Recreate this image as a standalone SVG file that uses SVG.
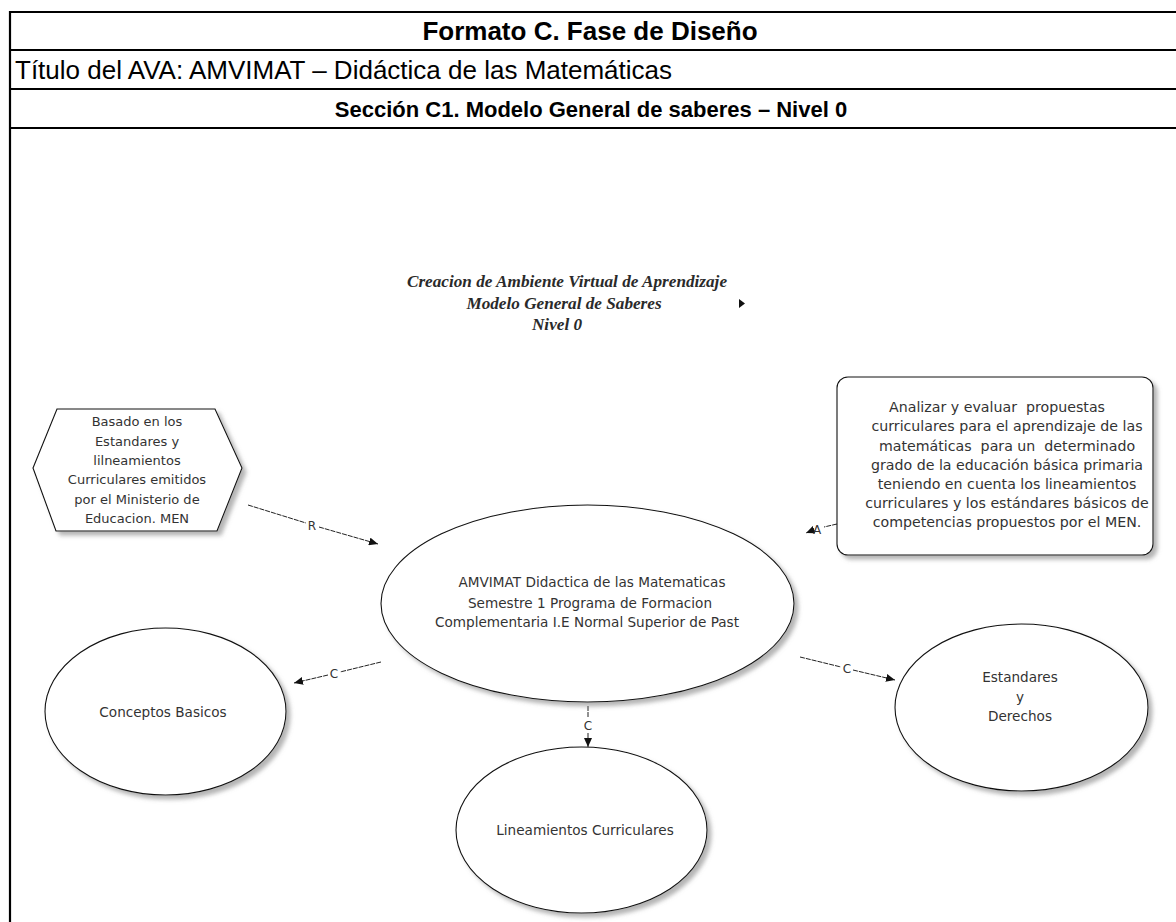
<svg xmlns="http://www.w3.org/2000/svg" width="1176" height="922" viewBox="0 0 1176 922">
  <style>
    .rule { stroke: #000; stroke-width: 2.2; fill: none; }
    .hd { font-family: "Liberation Sans", Arial, sans-serif; font-size: 22px; fill: #000; }
    .hdb { font-weight: bold; }
    .ttl { font-family: "Liberation Serif", "Times New Roman", serif; font-style: italic; font-weight: bold; font-size: 17.2px; fill: #2a2a2a; }
    .shape { fill: #fff; stroke: #111; stroke-width: 1.1; filter: url(#shadow); }
    .lbl { font-family: "DejaVu Sans", Verdana, sans-serif; font-size: 13.6px; fill: #333; text-anchor: middle; }
    .hex { font-size: 13px; }
    .box { font-size: 14.2px; white-space: pre; }
    .conn { stroke: #222; stroke-width: 1; fill: none; stroke-dasharray: 5 1; }
    .ctag { font-family: "DejaVu Sans", Verdana, sans-serif; font-size: 12px; fill: #333; text-anchor: middle; }
  </style>
  <defs>
    <filter id="shadow" x="-10%" y="-10%" width="125%" height="130%">
      <feDropShadow dx="4" dy="4" stdDeviation="2" flood-color="#777" flood-opacity="0.55"/>
    </filter>
    <marker id="arrow" markerWidth="9" markerHeight="8" refX="9" refY="4" orient="auto" markerUnits="userSpaceOnUse">
      <path d="M0,0 L9,4 L0,8 z" fill="#111"/>
    </marker>
  </defs>

  <rect width="1176" height="922" fill="#fff"/>

  <!-- form table -->
  <g id="table">
    <line class="rule" x1="10" y1="12" x2="1176" y2="12"/>
    <line class="rule" x1="10" y1="50" x2="1176" y2="50"/>
    <line class="rule" x1="10" y1="89" x2="1176" y2="89"/>
    <line class="rule" x1="10" y1="128" x2="1176" y2="128"/>
    <line class="rule" x1="10" y1="11" x2="10" y2="922"/>
    <text class="hd hdb" x="590" y="40" text-anchor="middle" style="font-size:26px">Formato C. Fase de Diseño</text>
    <text class="hd" x="15" y="79" style="font-size:26px">Título del AVA: AMVIMAT – Didáctica de las Matemáticas</text>
    <text class="hd hdb" x="591" y="117" text-anchor="middle">Sección C1. Modelo General de saberes – Nivel 0</text>
  </g>

  <!-- diagram heading -->
  <g id="heading">
    <text class="ttl" x="567" y="287" text-anchor="middle">Creacion de Ambiente Virtual de Aprendizaje</text>
    <text class="ttl" x="564" y="309" text-anchor="middle">Modelo General de Saberes</text>
    <text class="ttl" x="557" y="330" text-anchor="middle">Nivel 0</text>
    <path d="M739,299 L745,303.5 L739,308 z" fill="#111"/>
  </g>

  <!-- connectors -->
  <g id="connectors">
    <path class="conn" d="M248,505 L306,523"/>
    <path class="conn" d="M319,527 L378,544" marker-end="url(#arrow)"/>
    <text class="ctag" x="312" y="530">R</text>

    <path class="conn" d="M837,524 L824,527"/>
    <path class="conn" d="M811,531 L806,533" marker-end="url(#arrow)"/>
    <text class="ctag" x="817" y="534">A</text>

    <path class="conn" d="M381,662 L340,672"/>
    <path class="conn" d="M328,675 L294,683" marker-end="url(#arrow)"/>
    <text class="ctag" x="334" y="678">C</text>

    <path class="conn" d="M800,657 L841,667"/>
    <path class="conn" d="M853,670 L895,680" marker-end="url(#arrow)"/>
    <text class="ctag" x="847" y="673">C</text>

    <path class="conn" d="M588,706 L588,718"/>
    <path class="conn" d="M588,733 L588,747" marker-end="url(#arrow)"/>
    <text class="ctag" x="588" y="730">C</text>
  </g>

  <!-- base references -->
  <g id="node-base">
    <polygon class="shape" points="57,409 215,409 242,468 217,531 56,531 33,468"/>
    <text class="lbl hex" x="137" y="426">Basado en los</text>
    <text class="lbl hex" x="137" y="445.5">Estandares y</text>
    <text class="lbl hex" x="137" y="465">lilneamientos</text>
    <text class="lbl hex" x="137" y="484">Curriculares emitidos</text>
    <text class="lbl hex" x="137" y="503.5">por el Ministerio de</text>
    <text class="lbl hex" x="137" y="523">Educacion. MEN</text>
  </g>

  <!-- objective -->
  <g id="node-objective">
    <rect class="shape" x="837" y="377" width="316" height="178" rx="11"/>
    <text class="lbl box" x="997" y="411.5">Analizar y evaluar  propuestas</text>
    <text class="lbl box" x="1007" y="431">curriculares para el aprendizaje de las</text>
    <text class="lbl box" x="1007" y="450.5">matemáticas  para un  determinado</text>
    <text class="lbl box" x="1007" y="470">grado de la educación básica primaria</text>
    <text class="lbl box" x="1007" y="489">teniendo en cuenta los lineamientos</text>
    <text class="lbl box" x="1007" y="508">curriculares y los estándares básicos de</text>
    <text class="lbl box" x="1007" y="527">competencias propuestos por el MEN.</text>
  </g>

  <!-- central course -->
  <g id="node-course">
    <ellipse class="shape" cx="587.5" cy="603.5" rx="206.5" ry="98.5"/>
    <text class="lbl" x="592" y="587">AMVIMAT Didactica de las Matematicas</text>
    <text class="lbl" x="590" y="608">Semestre 1 Programa de Formacion</text>
    <text class="lbl" x="587" y="627">Complementaria I.E Normal Superior de Past</text>
  </g>

  <g id="node-conceptos">
    <ellipse class="shape" cx="165.5" cy="711.5" rx="120.5" ry="83.5"/>
    <text class="lbl" x="163" y="717">Conceptos Basicos</text>
  </g>

  <g id="node-estandares">
    <ellipse class="shape" cx="1021.5" cy="707.5" rx="126.5" ry="83.5"/>
    <text class="lbl" x="1020" y="682">Estandares</text>
    <text class="lbl" x="1020" y="702">y</text>
    <text class="lbl" x="1020" y="721">Derechos</text>
  </g>

  <g id="node-lineamientos">
    <ellipse class="shape" cx="581.5" cy="830" rx="125.5" ry="83"/>
    <text class="lbl" x="585" y="835">Lineamientos Curriculares</text>
  </g>
</svg>
